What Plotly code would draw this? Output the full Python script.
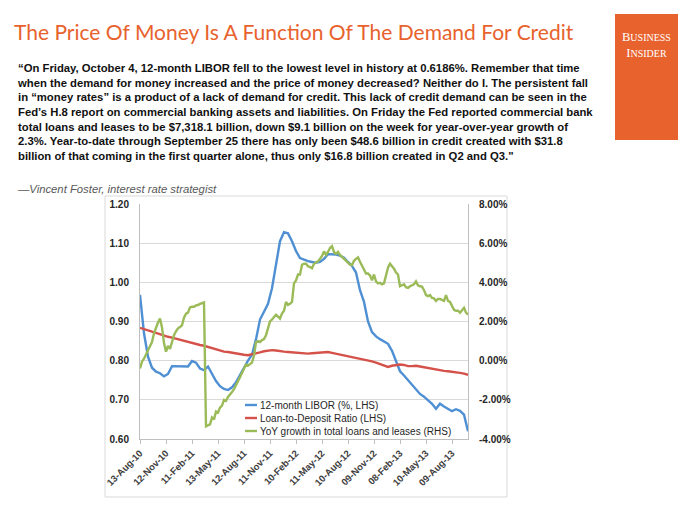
import pandas as pd
import plotly.graph_objects as go

# ---------------- data ----------------
tick_labels = ["13-Aug-10", "12-Nov-10", "11-Feb-11", "13-May-11", "12-Aug-11", "11-Nov-11",
               "10-Feb-12", "11-May-12", "10-Aug-12", "09-Nov-12", "08-Feb-13", "10-May-13", "09-Aug-13"]
left_ticks = [0.60, 0.70, 0.80, 0.90, 1.00, 1.10, 1.20]
left_tick_text = ["0.60", "0.70", "0.80", "0.90", "1.00", "1.10", "1.20"]
right_ticks = [-4, -2, 0, 2, 4, 6, 8]
right_tick_text = ["-4.00%", "-2.00%", "0.00%", "2.00%", "4.00%", "6.00%", "8.00%"]

start_date = "2010-08-13"
end_date = "2013-10-04"
weekly_dates = pd.date_range(start_date, end_date, freq="7D")
biweekly_dates = pd.date_range(start_date, end_date, freq="14D")

# 12-month LIBOR (%, LHS) - biweekly readings
libor = [0.968, 0.870, 0.810, 0.782, 0.772, 0.768, 0.760, 0.766, 0.786, 0.786,
         0.785, 0.786, 0.785, 0.799, 0.795, 0.780, 0.776, 0.785, 0.765, 0.748,
         0.735, 0.728, 0.725, 0.732, 0.745, 0.762, 0.782, 0.800, 0.815, 0.855,
         0.905, 0.925, 0.945, 0.985, 1.045, 1.105, 1.128, 1.125, 1.105, 1.080,
         1.062, 1.057, 1.054, 1.052, 1.050, 1.052, 1.060, 1.072, 1.072, 1.071,
         1.068, 1.063, 1.052, 1.042, 1.025, 0.980, 0.950, 0.900, 0.873, 0.862,
         0.855, 0.850, 0.843, 0.825, 0.797, 0.773, 0.762, 0.750, 0.740, 0.726,
         0.715, 0.708, 0.700, 0.690, 0.677, 0.690, 0.683, 0.676, 0.671, 0.676,
         0.672, 0.662, 0.620]

# Loan-to-Deposit Ratio (LHS) - biweekly readings
ltd_ratio = [0.884, 0.880, 0.877, 0.874, 0.871, 0.867, 0.864, 0.861, 0.859, 0.856,
             0.853, 0.851, 0.849, 0.846, 0.843, 0.840, 0.838, 0.835, 0.832, 0.828,
             0.825, 0.823, 0.822, 0.820, 0.818, 0.817, 0.815, 0.814, 0.816, 0.818,
             0.821, 0.824, 0.826, 0.827, 0.826, 0.824, 0.823, 0.822, 0.821, 0.821,
             0.820, 0.819, 0.818, 0.819, 0.820, 0.821, 0.822, 0.822, 0.820, 0.818,
             0.816, 0.813, 0.811, 0.809, 0.807, 0.805, 0.803, 0.800, 0.798, 0.795,
             0.791, 0.787, 0.784, 0.787, 0.789, 0.790, 0.789, 0.786, 0.786, 0.787,
             0.785, 0.783, 0.781, 0.780, 0.778, 0.776, 0.774, 0.773, 0.772, 0.771,
             0.769, 0.767, 0.764]

# YoY growth in total loans and leases (RHS, %) - weekly readings
yoy_growth = [-0.40, -0.05, 0.10, 0.30, 0.50, 0.70, 0.95, 1.40, 1.70, 1.95,
              2.15, 1.70, 0.90, 0.46, 0.75, 0.60, 0.95, 1.30, 1.50, 1.65,
              1.72, 1.80, 2.20, 2.40, 2.45, 2.72, 2.75, 2.75, 2.82, 2.84,
              2.90, 2.93, 2.97, -3.35, -3.30, -3.25, -2.90, -3.00, -2.60, -2.65,
              -2.40, -2.30, -2.00, -2.05, -1.85, -1.75, -1.60, -1.45, -1.20, -1.05,
              -0.85, -0.60, -0.45, -0.20, -0.25, -0.15, -0.10, 0.25, 0.95, 1.00,
              0.95, 1.05, 1.10, 1.30, 1.60, 2.00, 2.10, 2.20, 2.35, 2.25,
              2.15, 2.40, 2.55, 3.00, 2.85, 2.90, 3.00, 3.95, 4.10, 4.40,
              4.40, 4.90, 4.95, 4.95, 4.82, 4.78, 4.72, 4.95, 5.00, 5.07,
              5.20, 5.35, 5.58, 5.40, 5.55, 5.75, 5.85, 5.55, 5.45, 5.55,
              5.40, 5.30, 5.25, 5.15, 5.00, 4.90, 4.88, 5.10, 5.20, 5.28,
              5.05, 4.85, 4.70, 4.45, 4.45, 4.35, 4.10, 4.40, 4.05, 3.95,
              3.98, 3.90, 3.95, 4.30, 4.75, 4.95, 4.85, 4.70, 4.50, 4.40,
              3.80, 3.85, 3.90, 3.75, 3.72, 3.80, 3.85, 3.90, 4.05, 3.85,
              3.80, 3.78, 3.60, 3.35, 3.30, 3.35, 3.20, 3.18, 3.05, 3.15,
              3.15, 3.10, 3.05, 3.35, 3.05, 3.00, 2.75, 2.60, 2.55, 2.55,
              2.45, 2.60, 2.70, 2.45, 2.35]

series_names = ["12-month LIBOR (%, LHS)", "Loan-to-Deposit Ratio (LHS)",
                "YoY growth in total loans and leases (RHS)"]

title_text = "The Price Of Money Is A Function Of The Demand For Credit"
quote_lines = [
    "\u201cOn Friday, October 4, 12-month LIBOR fell to the lowest level in history at 0.6186%. Remember that time",
    "when the demand for money increased and the price of money decreased? Neither do I. The persistent fall",
    "in \u201cmoney rates\u201d is a product of a lack of demand for credit. This lack of credit demand can be seen in the",
    "Fed\u2019s H.8 report on commercial banking assets and liabilities. On Friday the Fed reported commercial bank",
    "total loans and leases to be $7,318.1 billion, down $9.1 billion on the week for year-over-year growth of",
    "2.3%. Year-to-date through September 25 there has only been $48.6 billion in credit created with $31.8",
    "billion of that coming in the first quarter alone, thus only $16.8 billion created in Q2 and Q3.\"",
]
attribution = "\u2014Vincent Foster, interest rate strategist"

# ---------------- layout helpers (pixel coords of the 700x525 reference) ----------------
OFF = 8                      # page body margin in the browser
W, H = 700 - OFF, 525 - OFF  # figure size so it fits the window
PL, PR, PT, PB = 140, 468, 204, 439  # plot area in reference pixels


def px_x(px):
    return (px - PL) / (PR - PL)


def px_y(py):
    return (PB - py) / (PB - PT)


BLUE = "#4F8FD3"
RED = "#D5524B"
GREEN = "#9BBB59"
ORANGE = "#E8622D"
FONT = "Liberation Sans"
colors = [BLUE, RED, GREEN]

tick_vals = [pd.to_datetime(t, format="%d-%b-%y") for t in tick_labels]

fig = go.Figure()
fig.add_trace(go.Scatter(x=biweekly_dates, y=libor, name=series_names[0], mode="lines",
                         line=dict(color=BLUE, width=2.4)))
fig.add_trace(go.Scatter(x=biweekly_dates, y=ltd_ratio, name=series_names[1], mode="lines",
                         line=dict(color=RED, width=2.4)))
fig.add_trace(go.Scatter(x=weekly_dates, y=yoy_growth, name=series_names[2], mode="lines",
                         line=dict(color=GREEN, width=2.4), yaxis="y2"))

fig.update_layout(
    width=W, height=H,
    paper_bgcolor="white", plot_bgcolor="white",
    margin=dict(l=PL - OFF, r=W - (PR - OFF), t=PT - OFF, b=H - (PB - OFF), pad=0, autoexpand=False),
    font=dict(family=FONT, color="#262626"),
    showlegend=False,
    xaxis=dict(type="date", range=[start_date, end_date], tickmode="array",
               tickvals=tick_vals, ticktext=tick_labels, tickangle=-45,
               tickfont=dict(size=9.5, color="#404040", family=FONT, weight="bold"),
               showgrid=False, showline=True, linecolor="#BFBFBF", linewidth=1,
               ticks="outside", ticklen=4, tickcolor="#BFBFBF", zeroline=False),
    yaxis=dict(range=[0.6, 1.2], tickmode="array", tickvals=left_ticks, ticktext=left_tick_text,
               tickfont=dict(size=10, color="#262626", family=FONT, weight="bold"),
               showgrid=True, gridcolor="#D9D9D9", gridwidth=1,
               showline=True, linecolor="#BFBFBF", linewidth=1, ticks="", ticklabelstandoff=8,
               zeroline=False),
    yaxis2=dict(range=[-4, 8], overlaying="y", side="right", tickmode="array",
                tickvals=right_ticks, ticktext=right_tick_text,
                tickfont=dict(size=10, color="#262626", family=FONT, weight="bold"),
                showgrid=False, showline=True, linecolor="#BFBFBF", linewidth=1,
                ticks="", ticklabelstandoff=8, zeroline=False),
)

shapes = [
    # chart frame
    dict(type="rect", xref="paper", yref="paper", x0=px_x(105), x1=px_x(507), y0=px_y(497), y1=px_y(196),
         line=dict(color="#D9D9D9", width=1), fillcolor="rgba(0,0,0,0)", layer="below"),
    # Business Insider box
    dict(type="rect", xref="paper", yref="paper", x0=px_x(615), x1=px_x(678), y0=px_y(140), y1=px_y(14),
         line=dict(width=0), fillcolor=ORANGE),
]

annotations = [
    dict(text=title_text, x=px_x(12), y=px_y(17), xref="paper", yref="paper",
         xanchor="left", yanchor="top", showarrow=False,
         font=dict(size=21, color=ORANGE, family="Lato")),
    dict(text="<br>".join(quote_lines), x=px_x(15), y=px_y(60), xref="paper", yref="paper",
         xanchor="left", yanchor="top", align="left", showarrow=False,
         font=dict(size=11.3, color="#111111", family=FONT, weight="bold")),
    dict(text="<i>" + attribution + "</i>", x=px_x(15), y=px_y(181), xref="paper", yref="paper",
         xanchor="left", yanchor="top", align="left", showarrow=False,
         font=dict(size=11.3, color="#595959", family=FONT)),
    dict(text="B<span style='font-size:10px'>USINESS</span><br>I<span style='font-size:10px'>NSIDER</span>",
         x=px_x(646.5), y=px_y(28), xref="paper", yref="paper",
         xanchor="center", yanchor="top", align="center", showarrow=False,
         font=dict(size=12.5, color="white", family="Liberation Serif")),
]

# manual compact legend (short line sample + label), rows as in the reference
legend_rows_y = [405, 418, 431]
for name, col, ly in zip(series_names, colors, legend_rows_y):
    shapes.append(dict(type="line", xref="paper", yref="paper",
                       x0=px_x(245), x1=px_x(257), y0=px_y(ly), y1=px_y(ly),
                       line=dict(color=col, width=2.4)))
    annotations.append(dict(text=name, x=px_x(258), y=px_y(ly), xref="paper", yref="paper",
                            xanchor="left", yanchor="middle", showarrow=False,
                            font=dict(size=10, color="#262626", family=FONT)))

fig.update_layout(shapes=shapes, annotations=annotations)

fig.write_html("out.html")
